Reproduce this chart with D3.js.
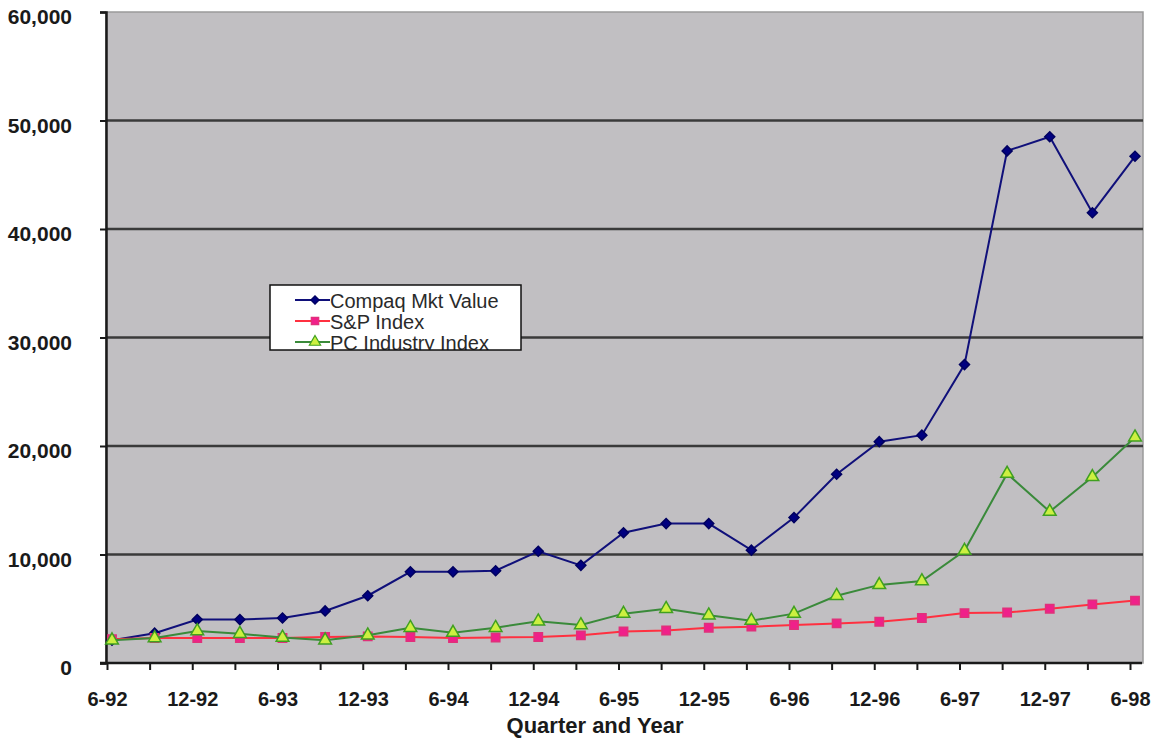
<!DOCTYPE html>
<html>
<head>
<meta charset="utf-8">
<script src="https://cdn.jsdelivr.net/npm/d3@7"></script>
<style>
  body { margin: 0; background: #fff; }
  svg { display: block; }
</style>
</head>
<body>
<svg id="chart" width="1156" height="738"></svg>
<script>
const quarters = ["6-92", "9-92", "12-92", "3-93", "6-93", "9-93", "12-93", "3-94", "6-94",
  "9-94", "12-94", "3-95", "6-95", "9-95", "12-95", "3-96", "6-96", "9-96", "12-96",
  "3-97", "6-97", "9-97", "12-97", "3-98", "6-98"];

const compaqValues = [2100, 2750, 4000, 4000, 4150, 4800, 6200, 8400, 8400, 8500, 10300, 9000,
  12000, 12850, 12850, 10400, 13400, 17400, 20400, 21000, 27500, 47200, 48500, 41500, 46700];
const spValues = [2200, 2300, 2300, 2300, 2300, 2400, 2450, 2400, 2300, 2350, 2400, 2550,
  2900, 3000, 3250, 3350, 3500, 3650, 3800, 4150, 4600, 4650, 5000, 5400, 5750];
const pcValues = [2100, 2300, 2950, 2700, 2350, 2100, 2550, 3250, 2800, 3250, 3850, 3500,
  4550, 5000, 4400, 3900, 4550, 6200, 7200, 7550, 10350, 17450, 13950, 17150, 20800];

const seriesNames = ["Compaq Mkt Value", "S&P Index", "PC Industry Index"];
const yTicks = [0, 10000, 20000, 30000, 40000, 50000, 60000];
const xTickLabels = quarters.filter((d, i) => i % 2 === 0);

const svg = d3.select("#chart");
const plotLeft = 106, plotRight = 1143, plotTop = 12, plotBottom = 663;

const x = d3.scalePoint().domain(quarters).range([112, 1135]);
const y = d3.scaleLinear().domain([0, 60000]).range([plotBottom, plotTop]);

// plot background
svg.append("rect")
  .attr("x", plotLeft).attr("y", plotTop)
  .attr("width", plotRight - plotLeft).attr("height", plotBottom - plotTop)
  .attr("fill", "#c1bfc2")
  .attr("stroke", "#9a9a9a")
  .attr("stroke-width", 1.5);

// gridlines
svg.append("g")
  .selectAll("line")
  .data(yTicks.filter((d) => d > 0 && d < 60000))
  .join("line")
  .attr("x1", plotLeft).attr("x2", plotRight)
  .attr("y1", (d) => y(d)).attr("y2", (d) => y(d))
  .attr("stroke", "#3a3a3a")
  .attr("stroke-width", 2.5);

// y axis
const yAxis = svg.append("g")
  .attr("transform", `translate(${plotLeft},0)`)
  .call(d3.axisLeft(y).tickValues(yTicks).tickSize(6).tickPadding(28).tickFormat(d3.format(",")));
yAxis.select(".domain").attr("stroke", "#1a1a1a").attr("stroke-width", 2.5);
yAxis.selectAll(".tick line").attr("stroke", "#1a1a1a").attr("stroke-width", 2);
yAxis.selectAll("text")
  .attr("font-family", "'Liberation Sans', Arial, sans-serif")
  .attr("font-size", 21)
  .attr("font-weight", "bold")
  .attr("fill", "#1a1a1a")
  .attr("dy", "0.55em");

// x axis
const xAxis = svg.append("g")
  .attr("transform", `translate(-5,${plotBottom})`)
  .call(d3.axisBottom(x).tickSize(7).tickPadding(22)
    .tickFormat((d) => (xTickLabels.includes(d) ? d : "")));
xAxis.select(".domain").attr("d", `M${plotLeft - 1},0H${plotRight + 4}`)
  .attr("stroke", "#1a1a1a").attr("stroke-width", 2.5);
xAxis.selectAll(".tick line").attr("stroke", "#1a1a1a").attr("stroke-width", 2);
xAxis.selectAll("text")
  .attr("font-family", "'Liberation Sans', Arial, sans-serif")
  .attr("font-size", 20)
  .attr("font-weight", "bold")
  .attr("fill", "#1a1a1a");

// axis title
svg.append("text")
  .attr("x", 595).attr("y", 733)
  .attr("text-anchor", "middle")
  .attr("font-family", "'Liberation Sans', Arial, sans-serif")
  .attr("font-size", 22)
  .attr("font-weight", "bold")
  .attr("fill", "#1a1a1a")
  .text("Quarter and Year");

// diamond = square turned 45 degrees
const series = [
  { name: seriesNames[0], values: compaqValues, line: "#10107a", fill: "#000080", stroke: "#000060", symbol: d3.symbolSquare, size: 50, rot: 45 },
  { name: seriesNames[1], values: spValues, line: "#ff3040", fill: "#f0208a", stroke: "#e0307a", symbol: d3.symbolSquare, size: 70, rot: 0 },
  { name: seriesNames[2], values: pcValues, line: "#3a8a3a", fill: "#ccf040", stroke: "#40a020", symbol: d3.symbolTriangle, size: 70, rot: 0 },
];

const line = d3.line()
  .x((d, i) => x(quarters[i]))
  .y((d) => y(d));

series.forEach((s) => {
  const g = svg.append("g");
  g.append("path")
    .attr("d", line(s.values))
    .attr("fill", "none")
    .attr("stroke", s.line)
    .attr("stroke-width", 2);
  g.selectAll("path.m")
    .data(s.values)
    .join("path")
    .attr("class", "m")
    .attr("transform", (d, i) => `translate(${x(quarters[i])},${y(d)}) rotate(${s.rot})`)
    .attr("d", d3.symbol().type(s.symbol).size(s.size))
    .attr("fill", s.fill)
    .attr("stroke", s.stroke)
    .attr("stroke-width", 1.5);
});

// legend
const legX = 270, legY = 285, legW = 251, legH = 65;
svg.append("defs").append("clipPath").attr("id", "legclip")
  .append("rect").attr("x", legX).attr("y", legY).attr("width", legW).attr("height", legH);

const legend = svg.append("g");
legend.append("rect")
  .attr("x", legX).attr("y", legY)
  .attr("width", legW).attr("height", legH)
  .attr("fill", "#ffffff");

const items = legend.append("g").attr("clip-path", "url(#legclip)")
  .selectAll("g")
  .data(series)
  .join("g")
  .attr("transform", (d, i) => `translate(0,${legY + 15 + i * 21})`);

items.append("line")
  .attr("x1", legX + 25).attr("x2", legX + 60)
  .attr("stroke", (d) => d.line)
  .attr("stroke-width", 2);
items.append("path")
  .attr("transform", (d) => `translate(${legX + 45},0) rotate(${d.rot})`)
  .attr("d", (d) => d3.symbol().type(d.symbol).size(d.size - 15)())
  .attr("fill", (d) => d.fill)
  .attr("stroke", (d) => d.stroke)
  .attr("stroke-width", 1.2);
items.append("text")
  .attr("x", legX + 60)
  .attr("y", 8)
  .attr("font-family", "'Liberation Sans', Arial, sans-serif")
  .attr("font-size", 20)
  .attr("fill", "#2a2a2a")
  .text((d) => d.name);

legend.append("rect")
  .attr("x", legX).attr("y", legY)
  .attr("width", legW).attr("height", legH)
  .attr("fill", "none")
  .attr("stroke", "#111")
  .attr("stroke-width", 1.5);
</script>
</body>
</html>
